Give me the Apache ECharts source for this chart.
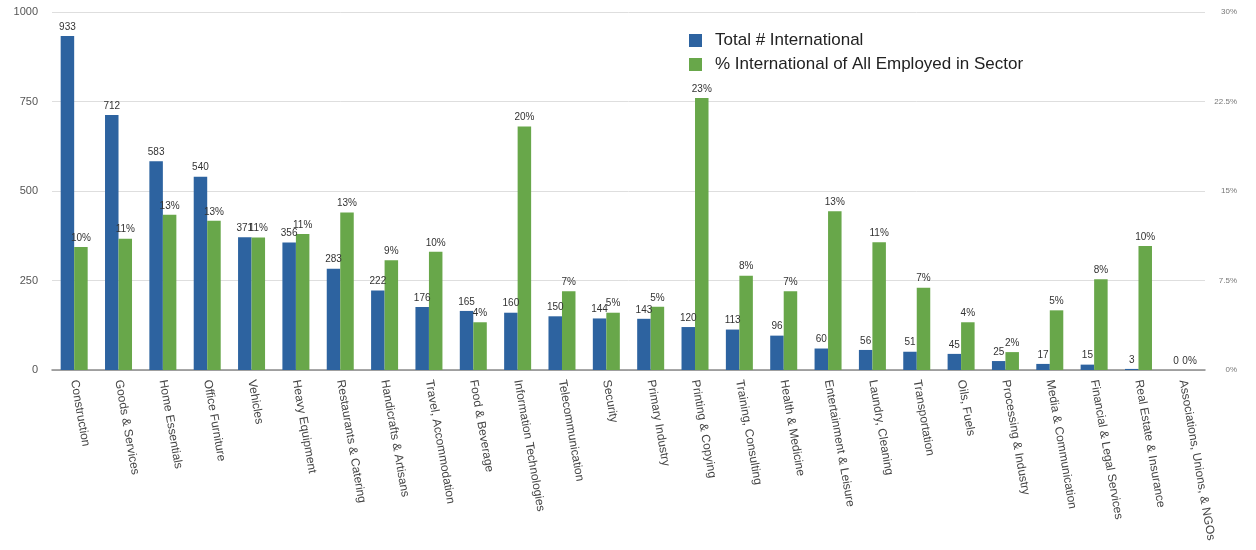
<!DOCTYPE html>
<html>
<head>
<meta charset="utf-8">
<script src="https://cdn.jsdelivr.net/npm/echarts@6/dist/echarts.min.js"></script>
<style>
  html, body { margin: 0; padding: 0; background: #fff; }
  #chart { width: 1256px; height: 550px; }
</style>
</head>
<body>
<div id="chart"></div>
<script>
// Sectors, in descending order of international employees
const sectors = [
  'Construction', 'Goods & Services', 'Home Essentials', 'Office Furniture', 'Vehicles',
  'Heavy Equipment', 'Restaurants & Catering', 'Handicrafts & Artisans', 'Travel, Accommodation',
  'Food & Beverage', 'Information Technologies', 'Telecommunication', 'Security', 'Primary Industry',
  'Printing & Copying', 'Training, Consulting', 'Health & Medicine', 'Entertainment & Leisure',
  'Laundry, Cleaning', 'Transportation', 'Oils, Fuels', 'Processing & Industry',
  'Media & Communication', 'Financial & Legal Services', 'Real Estate & Insurance',
  'Associations, Unions, & NGOs'
];

// Total number of international employees per sector
const totalInternational = [
  933, 712, 583, 540, 371, 356, 283, 222, 176, 165, 160, 150, 144, 143,
  120, 113, 96, 60, 56, 51, 45, 25, 17, 15, 3, 0
];

// Share of international employees among everyone employed in the sector (%)
const pctInternational = [
  10.3, 11.0, 13.0, 12.5, 11.1, 11.4, 13.2, 9.2, 9.9, 4.0, 20.4, 6.6, 4.8, 5.3,
  22.8, 7.9, 6.6, 13.3, 10.7, 6.9, 4.0, 1.5, 5.0, 7.6, 10.4, 0
];

const leftTicks = { min: 0, max: 1000, interval: 250 };
const rightTicks = { min: 0, max: 30, interval: 7.5 };

const BLUE = '#2d63a0';
const GREEN = '#68a74a';
const FONT = '"Liberation Sans", Arial, Helvetica, sans-serif';

const chart = echarts.init(document.getElementById('chart'));

chart.setOption({
  backgroundColor: '#ffffff',
  textStyle: { fontFamily: FONT },
  animation: false,
  grid: { left: 52, right: 51, top: 12, bottom: 180 },
  legend: {
    orient: 'vertical',
    left: 684,
    top: 27,
    itemWidth: 13,
    itemHeight: 13,
    itemGap: 7,
    icon: 'rect',
    textStyle: { fontSize: 17, color: '#222', fontFamily: FONT, padding: [0, 0, 0, 8] },
    data: ['Total # International', '% International of All Employed in Sector']
  },
  xAxis: {
    type: 'category',
    data: sectors,
    axisTick: { show: false },
    axisLine: { lineStyle: { color: '#8a8a8a', width: 1.5 } },
    axisLabel: {
      interval: 0,
      rotate: -80,
      margin: 10,
      fontSize: 12,
      color: '#444',
      fontFamily: FONT
    }
  },
  yAxis: [
    {
      type: 'value',
      min: leftTicks.min,
      max: leftTicks.max,
      interval: leftTicks.interval,
      axisLine: { show: false },
      axisTick: { show: false },
      splitLine: { lineStyle: { color: '#dedede', width: 1 } },
      axisLabel: { fontSize: 11, color: '#555', margin: 14, fontFamily: FONT, formatter: v => String(v) }
    },
    {
      type: 'value',
      min: rightTicks.min,
      max: rightTicks.max,
      interval: rightTicks.interval,
      position: 'right',
      axisLine: { show: false },
      axisTick: { show: false },
      splitLine: { show: false },
      axisLabel: {
        fontSize: 8,
        color: '#777',
        margin: 32,
        align: 'right',
        fontFamily: FONT,
        formatter: v => v + '%'
      }
    }
  ],
  series: [
    {
      name: 'Total # International',
      type: 'bar',
      yAxisIndex: 0,
      data: totalInternational,
      barWidth: 13.5,
      barGap: '0%',
      itemStyle: { color: BLUE },
      label: {
        show: true,
        position: 'top',
        distance: 4,
        fontSize: 10,
        color: '#333',
        fontFamily: FONT
      }
    },
    {
      name: '% International of All Employed in Sector',
      type: 'bar',
      yAxisIndex: 1,
      data: pctInternational,
      barWidth: 13.5,
      barGap: '0%',
      itemStyle: { color: GREEN },
      label: {
        show: true,
        position: 'top',
        distance: 4,
        fontSize: 10,
        color: '#333',
        fontFamily: FONT,
        formatter: p => Math.round(p.value) + '%'
      }
    }
  ]
});
</script>
</body>
</html>
